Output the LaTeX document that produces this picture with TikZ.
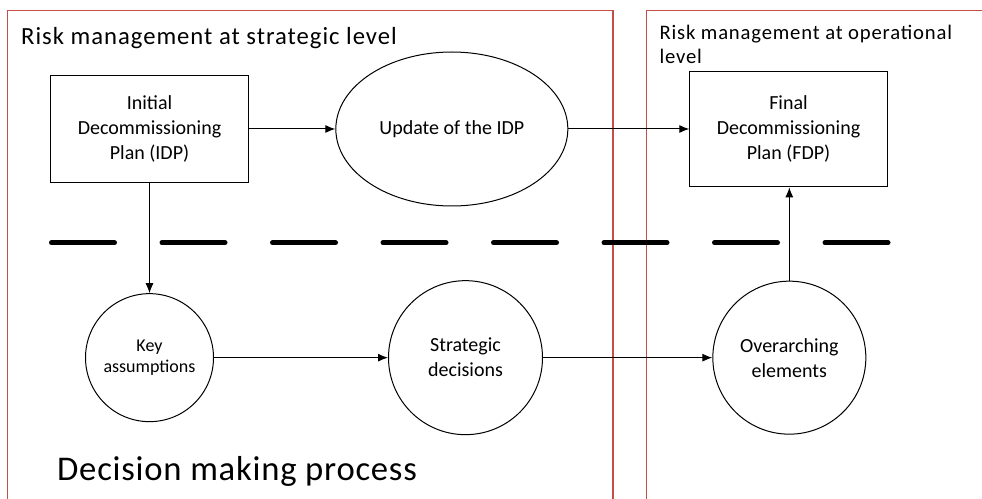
\documentclass[tikz,border=0pt]{standalone}
\usepackage{fontspec}
\setmainfont{Carlito}
\newfontfamily\headfont[LetterSpace=4]{Carlito}
\newfontfamily\bigfont[LetterSpace=2.2]{Carlito}
\usepackage{tikz}
\usetikzlibrary{shapes,arrows.meta}
\usetikzlibrary{positioning}
\definecolor{framered}{RGB}{196,78,72}
\newcommand\boxfont{\fontsize{15}{18.75}\selectfont}
\newcommand\keyfont{\fontsize{13.5}{16}\selectfont}

\begin{document}
\begin{tikzpicture}[x=0.75pt, y=-0.75pt,
>={Latex[length=7.5pt,width=6pt]},
line width=0.75pt,
regionframe/.style={draw=framered, line width=0.8pt},
heading/.style={anchor=base west, inner sep=0pt},
plan/.style={
  rectangle,
  draw,
  inner sep=0pt,
  minimum width=148pt,
  align=center,
  font=\boxfont},
stage/.style={
  circle,
  draw,
  inner sep=0pt,
  align=center,
  font=\boxfont}
]
\useasboundingbox (0,0) rectangle (982,499);

% the two levels
\draw[regionframe] (7.3,499) -- (7.3,10.7) -- (613,10.7) -- (613,499);
\draw[regionframe] (646.7,499) -- (646.7,10.7) -- (982,10.7);
\node[heading, font=\headfont\fontsize{18.5}{22}\selectfont] (strathead) at (20.7,44.3) {Risk management at strategic level};
% base of a two line node sits on its last line
\node[heading, align=left, font=\headfont\fontsize{15.5}{18}\selectfont] (ophead) at (659,63.3) {Risk management at operational\\level};

% plans
\node[plan, minimum height=80.5pt] (idp) at (149.5,129) {Initial\\Decommissioning\\Plan (IDP)};
\node[ellipse, draw, inner sep=0pt, minimum width=174pt, minimum height=115.5pt,
  font=\boxfont, right=65pt of idp] (upd) {Update of the IDP};
\node[plan, minimum height=86.8pt, right=90.75pt of upd] (fdp) {Final\\Decommissioning\\Plan (FDP)};

% decision making
\node[stage, minimum size=96pt, font=\keyfont, below=82.5pt of idp] (key) {Key\\assumptions};
\node[stage, minimum size=115.5pt, right=130.5pt of key] (strat) {Strategic\\decisions};
\node[stage, minimum size=114.75pt, right=127pt of strat] (over) {Overarching\\elements};

\draw[line width=3.75pt, line cap=round, dash pattern=on 47.25pt off 35.625pt]
  (51.5,242.7) coordinate (sepl) -- (888.2,242.7) coordinate (sepr);

\draw[->] (idp) -- (upd);
\draw[->] (upd) -- (fdp);
\draw[->] (idp) -- (key);
\draw[->] (key) -- (strat);
\draw[->] (strat) -- (over);
\draw[->] (over.north) -- (over.north |- fdp.south);

\node[heading, font=\bigfont\fontsize{26}{30}\selectfont] (dmp) at (56.7,480) {Decision making process};

\end{tikzpicture}
\end{document}
